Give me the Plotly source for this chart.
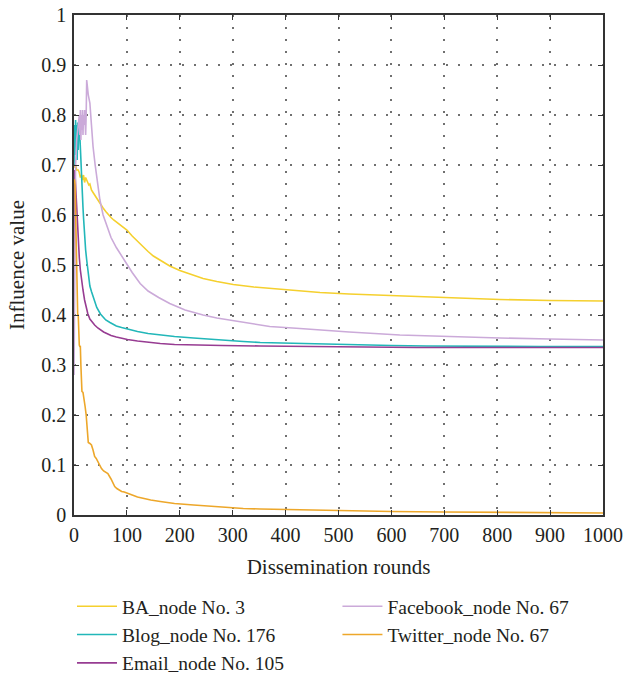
import plotly.graph_objects as go

# ---------------- data ----------------
series_names = ["BA_node No. 3", "Blog_node No. 176", "Email_node No. 105",
                "Facebook_node No. 67", "Twitter_node No. 67"]

ba_x = [0, 1, 3, 5, 8, 10, 12, 14, 16, 18, 20, 22, 24, 26, 28, 30, 33, 36, 40, 45, 50, 55, 60, 65,
        70, 75, 80, 87, 95, 100, 110, 120, 130, 140, 150, 160, 181, 200, 220, 244, 270, 301, 340,
        370, 427, 465, 520, 570, 616, 700, 805, 900, 1000]
ba_y = [0.70, 0.695, 0.70, 0.69, 0.69, 0.685, 0.675, 0.68, 0.67, 0.68, 0.665, 0.675, 0.67, 0.665,
        0.66, 0.662, 0.65, 0.645, 0.638, 0.63, 0.621, 0.614, 0.607, 0.60, 0.595, 0.59, 0.586, 0.58,
        0.574, 0.57, 0.558, 0.547, 0.537, 0.527, 0.518, 0.511, 0.498, 0.489, 0.481, 0.473, 0.467,
        0.461, 0.456, 0.453, 0.448, 0.445, 0.442, 0.44, 0.438, 0.435, 0.431, 0.429, 0.428]

blog_x = [0, 1, 2, 3, 4, 5, 6, 7, 8, 9, 10, 11, 12, 13, 14, 15, 16, 17, 18, 20, 22, 24, 26, 28, 30,
          33, 36, 40, 43, 50, 55, 60, 68, 80, 90, 100, 120, 140, 163, 190, 226, 260, 289, 320, 352,
          427, 528, 600, 667, 800, 881, 1000]
blog_y = [0.70, 0.78, 0.72, 0.79, 0.74, 0.78, 0.71, 0.785, 0.73, 0.78, 0.775, 0.76, 0.73, 0.70,
          0.67, 0.645, 0.63, 0.615, 0.595, 0.557, 0.53, 0.51, 0.49, 0.472, 0.458, 0.447, 0.437,
          0.425, 0.415, 0.402, 0.396, 0.39, 0.385, 0.378, 0.375, 0.372, 0.367, 0.363, 0.36, 0.357,
          0.354, 0.351, 0.349, 0.347, 0.345, 0.343, 0.34, 0.339, 0.338, 0.337, 0.337, 0.337]

email_x = [0, 1, 2, 3, 4, 5, 6, 7, 8, 10, 12, 14, 17, 20, 23, 26, 30, 35, 39, 45, 50, 56, 64, 70,
           80, 90, 101, 120, 140, 163, 190, 226, 280, 352, 427, 500, 648, 800, 1000]
email_y = [0.33, 0.69, 0.68, 0.66, 0.635, 0.61, 0.59, 0.565, 0.548, 0.515, 0.49, 0.47, 0.45, 0.43,
           0.415, 0.403, 0.392, 0.385, 0.38, 0.374, 0.37, 0.366, 0.362, 0.359, 0.356, 0.353, 0.351,
           0.348, 0.345, 0.343, 0.341, 0.34, 0.339, 0.338, 0.337, 0.336, 0.335, 0.335, 0.335]

fb_x = [0, 1, 2, 3, 5, 7, 9, 10, 11, 12, 13, 14, 15, 16, 17, 18, 19, 20, 21, 22, 23, 24, 25, 27, 30,
        33, 36, 40, 43, 46, 49, 55, 62, 70, 80, 87, 100, 110, 125, 140, 160, 181, 210, 244, 270,
        301, 340, 370, 427, 465, 520, 616, 700, 805, 900, 1000]
fb_y = [0.28, 0.45, 0.60, 0.70, 0.75, 0.78, 0.79, 0.80, 0.76, 0.81, 0.75, 0.80, 0.77, 0.81, 0.76,
        0.80, 0.78, 0.81, 0.77, 0.76, 0.80, 0.87, 0.86, 0.84, 0.824, 0.78, 0.737, 0.70, 0.677,
        0.66, 0.63, 0.60, 0.577, 0.555, 0.535, 0.523, 0.50, 0.485, 0.463, 0.448, 0.435, 0.423,
        0.41, 0.40, 0.394, 0.389, 0.382, 0.377, 0.373, 0.37, 0.366, 0.36, 0.357, 0.354, 0.352, 0.35]

tw_x = [0, 1, 2, 3, 4, 5, 6, 7, 8, 9, 10, 11, 12, 13, 14, 15, 17, 19, 21, 23, 25, 27, 30, 33, 36, 39,
        42, 46, 49, 52, 56, 60, 64, 70, 74, 77, 81, 85, 90, 95, 101, 110, 120, 131, 145, 163, 190,
        226, 260, 289, 320, 352, 400, 450, 500, 600, 700, 800, 900, 1000]
tw_y = [0.67, 0.67, 0.66, 0.60, 0.55, 0.47, 0.44, 0.40, 0.40, 0.36, 0.34, 0.337, 0.337, 0.30, 0.25,
        0.247, 0.245, 0.224, 0.217, 0.20, 0.17, 0.145, 0.143, 0.14, 0.13, 0.117, 0.113, 0.105,
        0.097, 0.093, 0.088, 0.085, 0.083, 0.072, 0.062, 0.057, 0.053, 0.05, 0.047, 0.046, 0.043,
        0.04, 0.036, 0.033, 0.03, 0.027, 0.023, 0.02, 0.017, 0.015, 0.013, 0.012, 0.011, 0.009,
        0.008, 0.007, 0.006, 0.005, 0.005, 0.004]

x_ticks = [0, 100, 200, 300, 400, 500, 600, 700, 800, 900, 1000]
y_ticks = [0, 0.1, 0.2, 0.3, 0.4, 0.5, 0.6, 0.7, 0.8, 0.9, 1]

colors = ["#F5D02E", "#22B7B9", "#973C92", "#CBAAD9", "#EDA72A"]

# ---------------- figure ----------------
FONT = "Liberation Serif"
TXT = "#231F20"
FS = 20

fig = go.Figure()
data = [(ba_x, ba_y, "legend"), (blog_x, blog_y, "legend"), (email_x, email_y, "legend"),
        (fb_x, fb_y, "legend2"), (tw_x, tw_y, "legend2")]
for (xs, ys, lg), name, c in zip(data, series_names, colors):
    fig.add_trace(go.Scatter(x=xs, y=ys, mode="lines", name=name,
                             line=dict(color=c, width=1.6), legend=lg))

axis_common = dict(showline=True, linecolor="#333333", linewidth=1.5, mirror="ticks",
                   ticks="inside", ticklen=5, tickcolor="#333333", tickwidth=1,
                   showgrid=True, gridcolor="#707070", griddash="1.5px,10.5px", gridwidth=1.5,
                   zeroline=False, automargin=False,
                   tickfont=dict(family=FONT, size=FS, color=TXT))

fig.update_xaxes(range=[0, 1000], tickvals=x_ticks, ticktext=[str(v) for v in x_ticks],
                 title=dict(text="Dissemination rounds", font=dict(family=FONT, size=21, color=TXT),
                            standoff=15),
                 ticklabelstandoff=1, **axis_common)
fig.update_yaxes(range=[0, 1], tickvals=y_ticks, ticktext=[f"{v:g}" for v in y_ticks],
                 title=dict(text="Influence value", font=dict(family=FONT, size=21, color=TXT),
                            standoff=11),
                 ticklabelstandoff=2, **axis_common)

legend_common = dict(orientation="v", yanchor="top", xanchor="left", y=-0.144,
                     itemwidth=40,
                     bgcolor="rgba(0,0,0,0)", font=dict(family=FONT, size=19.5, color=TXT))
fig.update_layout(
    template="none",
    width=626, height=674,
    margin=dict(l=74, r=23, t=15, b=159, autoexpand=False),
    plot_bgcolor="white", paper_bgcolor="white",
    font=dict(family=FONT, color=TXT),
    legend=dict(x=-0.0038, **legend_common),
    legend2=dict(x=0.498, **legend_common),
    showlegend=True,
)

fig.write_html("out.html", config={"displayModeBar": False},
               post_script="document.body.style.margin='0px';")
